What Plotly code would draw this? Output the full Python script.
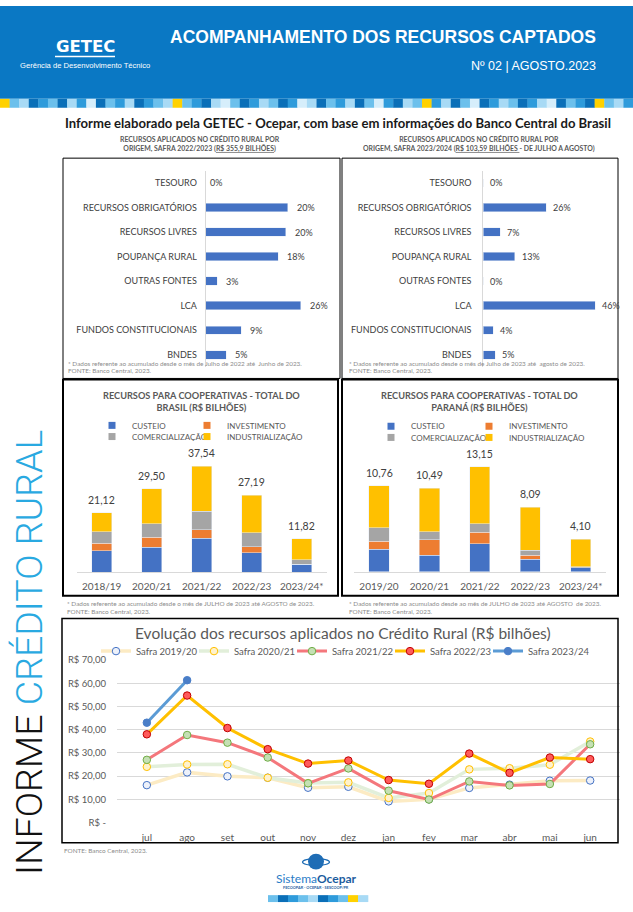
import subprocess
import plotly.graph_objects as go

W, H = 633, 912


def fx(x):
    return x / W


def fy(y):
    return 1 - y / H


try:
    _fams = subprocess.run(["fc-list", ":", "family"], capture_output=True, text=True).stdout
except Exception:
    _fams = ""
HAS_NARROW = "Liberation Sans Narrow" in _fams
NARROW = "'Liberation Sans Narrow', 'Arial Narrow', sans-serif" if HAS_NARROW else "'Liberation Sans', Arial, sans-serif"
TITLE_SIZE = 21 if HAS_NARROW else 17.5
SUB_SIZE = 15.5 if HAS_NARROW else 12.5
CH = "Lato, 'Open Sans', sans-serif"

# ---------------- data ----------------
origem = ["TESOURO", "RECURSOS OBRIGATÓRIOS", "RECURSOS LIVRES", "POUPANÇA RURAL",
          "OUTRAS FONTES", "LCA", "FUNDOS CONSTITUCIONAIS", "BNDES"]
rotulo_2223 = ["0%", "20%", "20%", "18%", "3%", "26%", "9%", "5%"]
barra_2223 = [0, 20.2, 19.7, 17.9, 2.9, 23.4, 8.7, 5.0]
rotulo_2324 = ["0%", "26%", "7%", "13%", "0%", "46%", "4%", "5%"]
barra_2324 = [0, 26, 7, 13, 0, 46, 4, 5]

linhas_coop = ["CUSTEIO", "INVESTIMENTO", "COMERCIALIZAÇÃO", "INDUSTRIALIZAÇÃO"]
cores_coop = ["#4472C4", "#ED7D31", "#A5A5A5", "#FFC000"]

anos_br = ["2018/19", "2020/21", "2021/22", "2022/23", "2023/24*"]
custeio_br = [7.56, 8.84, 11.98, 6.86, 2.79]
invest_br = [2.67, 3.49, 3.14, 2.21, 0.10]
comerc_br = [4.08, 4.88, 6.50, 4.89, 1.53]
indus_br = [6.81, 12.29, 15.92, 13.23, 7.40]
total_br = [21.12, 29.50, 37.54, 27.19, 11.82]

anos_pr = ["2019/20", "2020/21", "2021/22", "2022/23", "2023/24*"]
custeio_pr = [2.85, 2.06, 3.51, 1.57, 0.50]
invest_pr = [0.99, 1.98, 1.44, 0.53, 0.02]
comerc_pr = [1.65, 0.99, 1.07, 0.62, 0.14]
indus_pr = [5.27, 5.46, 7.13, 5.37, 3.44]
total_pr = [10.76, 10.49, 13.15, 8.09, 4.10]

meses = ["jul", "ago", "set", "out", "nov", "dez", "jan", "fev", "mar", "abr", "mai", "jun"]
safra_1920 = [16.1, 21.6, 19.9, 19.3, 15.0, 15.4, 9.1, 10.0, 14.9, 16.3, 18.0, 18.1]
safra_2021 = [24.0, 25.0, 25.1, 19.3, 17.0, 17.3, 10.6, 12.7, 22.9, 23.4, 24.9, 34.9]
safra_2122 = [27.0, 37.7, 34.4, 28.0, 16.9, 23.3, 13.7, 9.9, 17.7, 16.0, 16.6, 33.7]
safra_2223 = [38.0, 54.7, 40.7, 31.6, 25.4, 26.7, 18.3, 16.7, 29.7, 21.4, 28.0, 27.3]
safra_2324 = [43.0, 61.3, None, None, None, None, None, None, None, None, None, None]
y_ticks = [0, 10, 20, 30, 40, 50, 60, 70]
y_ticktext = ["R$ -", "R$ 10,00", "R$ 20,00", "R$ 30,00", "R$ 40,00", "R$ 50,00", "R$ 60,00", "R$ 70,00"]


def br(v):
    return f"{v:.2f}".replace(".", ",")


fig = go.Figure()

# ---------------- top horizontal bars ----------------
fig.add_bar(x=barra_2223, y=origem, orientation="h", width=0.344, marker_color="#4472C4",
            xaxis="x", yaxis="y", showlegend=False, hoverinfo="skip")
fig.add_bar(x=barra_2324, y=origem, orientation="h", width=0.344, marker_color="#4472C4",
            xaxis="x2", yaxis="y2", showlegend=False, hoverinfo="skip")

# ---------------- stacked cooperative bars ----------------
for nome, vals, cor in zip(linhas_coop, [custeio_br, invest_br, comerc_br, indus_br], cores_coop):
    fig.add_bar(x=anos_br, y=vals, name=nome, marker_color=cor, width=0.4,
                xaxis="x3", yaxis="y3", showlegend=False, hoverinfo="skip")
for nome, vals, cor in zip(linhas_coop, [custeio_pr, invest_pr, comerc_pr, indus_pr], cores_coop):
    fig.add_bar(x=anos_pr, y=vals, name=nome, marker_color=cor, width=0.4,
                xaxis="x4", yaxis="y4", showlegend=False, hoverinfo="skip")

# legend entries (small squares) for the cooperative charts
for i, (nome, cor) in enumerate(zip(linhas_coop, cores_coop)):
    lw_item = 100 if i % 2 == 1 else None
    fig.add_scatter(x=[None], y=[None], mode="markers", name=nome,
                    marker=dict(symbol="square", size=7, color=cor), legendwidth=lw_item,
                    xaxis="x3", yaxis="y3", legend="legend2" if i < 2 else "legend3")
    fig.add_scatter(x=[None], y=[None], mode="markers", name=nome,
                    marker=dict(symbol="square", size=7, color=cor), legendwidth=lw_item,
                    xaxis="x4", yaxis="y4", legend="legend4" if i < 2 else "legend5")

# ---------------- line chart ----------------
series = [
    ("Safra 2019/20", safra_1920, "#FCEBC4", 3.5, "#EDF1FA", "#4472C4"),
    ("Safra 2020/21", safra_2021, "#E2EFDA", 3.5, "#FFF2CC", "#FFC000"),
    ("Safra 2021/22", safra_2122, "#F4777C", 3, "#C5E0B4", "#70AD47"),
    ("Safra 2022/23", safra_2223, "#FFC000", 3, "#FF5B5B", "#C00000"),
    ("Safra 2023/24", safra_2324, "#5B9BD5", 3, "#4A7EC8", "#4A7EC8"),
]
for k, (nome, vals, lc, lw, mf, ml) in enumerate(series):
    fig.add_scatter(x=meses, y=vals, name=nome, mode="lines+markers",
                    line=dict(color=lc, width=lw),
                    marker=dict(size=7.5, color=mf, line=dict(color=ml, width=1)),
                    xaxis="x5", yaxis="y5", legend="legend", hoverinfo="skip",
                    cliponaxis=False, legendwidth=75 if k == 4 else None)

# ---------------- annotations ----------------
ann = []
for cat, v, t in zip(origem, barra_2223, rotulo_2223):
    ann.append(dict(x=v, y=cat, xref="x", yref="y", text=t, showarrow=False,
                    xanchor="left", xshift=7 if v > 0 else 2,
                    font=dict(family=CH, size=9, color="#404040")))
for cat, v, t in zip(origem, barra_2324, rotulo_2324):
    ann.append(dict(x=v, y=cat, xref="x2", yref="y2", text=t, showarrow=False,
                    xanchor="left", xshift=5,
                    font=dict(family=CH, size=9, color="#404040")))
for a, t in zip(anos_br, total_br):
    ann.append(dict(x=a, y=t, xref="x3", yref="y3", text=br(t), showarrow=False,
                    yanchor="bottom", yshift=5, font=dict(family=CH, size=10.5, color="#404040")))
for a, t in zip(anos_pr, total_pr):
    ann.append(dict(x=a, y=t, xref="x4", yref="y4", text=br(t), showarrow=False,
                    yanchor="bottom", yshift=5, font=dict(family=CH, size=10.5, color="#404040")))


def txt(x, y, text, size, color="#000000", family=CH, xanchor="center", yanchor="middle", **kw):
    ann.append(dict(x=fx(x), y=fy(y), xref="paper", yref="paper", text=text, showarrow=False,
                    xanchor=xanchor, yanchor=yanchor, font=dict(family=family, size=size, color=color), **kw))


# header
txt(85, 41, "<b>GETEC</b>", 16.5, "#FFFFFF", family="'DejaVu Sans', sans-serif")
txt(85, 60, "Gerência de Desenvolvimento Técnico", 7.6, "#FFFFFF", family="'Liberation Sans', Arial, sans-serif")
txt(598, 31, "<b>ACOMPANHAMENTO DOS RECURSOS CAPTADOS</b>", TITLE_SIZE, "#FFFFFF", family=NARROW, xanchor="right")
txt(598, 61, "Nº 02 | AGOSTO.2023", SUB_SIZE, "#FFFFFF", family=NARROW, xanchor="right")

txt(337.5, 118, "<b>Informe elaborado pela GETEC - Ocepar, com base em informações do Banco Central do Brasil</b>",
    13.1, "#1A1A1A")

# top chart titles
txt(200, 140, "<b>RECURSOS APLICADOS NO CRÉDITO RURAL POR<br>ORIGEM, SAFRA 2022/2023 "
    "(<span style='text-decoration:underline'>R$ 355,9 BILHÕES</span>)</b>", 6.9, "#595959")
txt(479, 140, "<b>RECURSOS APLICADOS NO CRÉDITO RURAL POR<br>ORIGEM, SAFRA 2023/2024 "
    "(<span style='text-decoration:underline'>R$ 103,59 BILHÕES </span>- DE JULHO A AGOSTO)</b>", 6.9, "#595959")

NOTE = "#8C8C8C"
NS = 6.4
txt(66, 362, "* Dados referente ao acumulado desde o mês de Julho de 2022 até  Junho de 2023.", NS, NOTE, xanchor="left")
txt(66, 369, "FONTE: Banco Central, 2023.", NS, NOTE, xanchor="left")
txt(347, 362, "* Dados referente ao acumulado desde o mês de Julho de 2023 até  agosto de 2023.", NS, NOTE, xanchor="left")
txt(347, 369, "FONTE: Banco Central, 2023.", NS, NOTE, xanchor="left")

# middle chart titles
txt(201.5, 400.5, "<b>RECURSOS PARA COOPERATIVAS - TOTAL DO<br>BRASIL (R$ BILHÕES)</b>", 9.2, "#595959")
txt(480, 400.5, "<b>RECURSOS PARA COOPERATIVAS - TOTAL DO<br>PARANÁ (R$ BILHÕES)</b>", 9.2, "#595959")

txt(65, 605, "* Dados referente ao acumulado desde o mês de JULHO de 2023 até AGOSTO de 2023.", NS, NOTE, xanchor="left")
txt(65, 613, "FONTE: Banco Central, 2023.", NS, NOTE, xanchor="left")
txt(346.5, 605, "* Dados referente ao acumulado desde ao mês de JULHO de 2023 até AGOSTO  de 2023.", NS, NOTE, xanchor="left")
txt(346.5, 613, "FONTE: Banco Central, 2023.", NS, NOTE, xanchor="left")

# line chart title & source
txt(342.5, 635, "Evolução dos recursos aplicados no Crédito Rural (R$ bilhões)", 15.5, "#595959")
txt(62, 855, "FONTE: Banco Central, 2023.", NS, NOTE, xanchor="left")

# vertical side title
ann.append(dict(x=fx(29), y=fy(655), xref="paper", yref="paper", showarrow=False, textangle=-90,
                xanchor="center", yanchor="middle",
                text="INFORME <span style='color:#29A9E1'>CRÉDITO RURAL</span>",
                font=dict(family="Roboto, 'Liberation Sans', sans-serif", size=37.5, color="#111111", weight=300)))

# footer logo text
txt(316, 883, "<span style='color:#2A7CC7'>Sistema</span><b><span style='color:#1B5C9E'>Ocepar</span></b>", 12)
txt(316, 892, "<b>FECOOPAR - OCEPAR - SESCOOP/PR</b>", 3.8, "#1B5C9E")

# ---------------- shapes ----------------
shapes = []


def rect(x0, y0, x1, y1, fill=None, lc=None, lw=0, layer="below"):
    shapes.append(dict(type="rect", xref="paper", yref="paper", x0=fx(x0), x1=fx(x1), y0=fy(y1), y1=fy(y0),
                       fillcolor=fill if fill else "rgba(0,0,0,0)",
                       line=dict(color=lc if lc else "rgba(0,0,0,0)", width=lw), layer=layer))


rect(0, 0, W, 94, fill="#0A78C4")
pal = {"Y": "#FFD100", "D": "#0A6FB8", "M": "#2E9BDB", "L": "#6CC0EC", "P": "#A8DAF5", "W": "#D6EEFB"}
mosaico = "Y" + "LPDMLDPMWDLMPDMLP" + "Y" + "LMDPWLDMPLDMWPDLMPDLWMDPL" + "Y" + "MPDLWDMPLDMPWDLMD" + "Y" + "LPM"
tw = W / len(mosaico)
for i, c in enumerate(mosaico):
    rect(i * tw, 94, (i + 1) * tw + 0.3, 103, fill=pal[c])
shapes.append(dict(type="line", xref="paper", yref="paper", x0=fx(55), x1=fx(115), y0=fy(51), y1=fy(51),
                   line=dict(color="#FFFFFF", width=1.5)))

# panel borders
rect(63, 154, 340, 377, lc="#000000", lw=1, layer="above")
rect(342, 154, 618, 377, lc="#000000", lw=1, layer="above")
rect(63, 378, 338, 597, lc="#000000", lw=2, layer="above")
rect(342, 378, 618, 597, lc="#000000", lw=2, layer="above")
rect(62, 620, 618, 847, lc="#000000", lw=1.5, layer="above")

# footer logo
shapes.append(dict(type="circle", xref="paper", yref="paper", x0=fx(308), x1=fx(324), y0=fy(874), y1=fy(858),
                   fillcolor="#1F6DB5", line=dict(width=0)))
shapes.append(dict(type="circle", xref="paper", yref="paper", x0=fx(302.5), x1=fx(329.5), y0=fy(870), y1=fy(863),
                   fillcolor="rgba(0,0,0,0)", line=dict(color="#1F6DB5", width=1.2)))
rodape = "LDMLPDMLYP"
for i, c in enumerate(rodape):
    rect(268 + i * 10, 900, 268 + (i + 1) * 10 + 0.3, 907, fill=pal[c])

# ---------------- layout ----------------
cat_font = dict(family=CH, size=9, color="#404040")
leg_common = dict(orientation="h", xanchor="left", yanchor="middle", bgcolor="rgba(0,0,0,0)",
                  itemwidth=30, entrywidthmode="pixels", traceorder="normal")

fig.update_layout(
    width=W, height=H, margin=dict(l=0, r=0, t=0, b=0),
    paper_bgcolor="#FFFFFF", plot_bgcolor="rgba(0,0,0,0)",
    barmode="stack",
    annotations=ann, shapes=shapes,
    xaxis=dict(domain=[fx(205.7), fx(319.4)], range=[0, 28], visible=False, anchor="y"),
    yaxis=dict(domain=[fy(365.5), fy(166.6)], type="category", range=[7.5, -0.5], showline=True,
               linecolor="#D9D9D9", ticks="", tickfont=cat_font, ticklabelstandoff=6, anchor="x",
               showgrid=False, zeroline=False),
    xaxis2=dict(domain=[fx(483.3), fx(599.9)], range=[0, 48], visible=False, anchor="y2"),
    yaxis2=dict(domain=[fy(365.5), fy(166.6)], type="category", range=[7.5, -0.5], showline=True,
                linecolor="#D9D9D9", ticks="", tickfont=cat_font, ticklabelstandoff=9, anchor="x2",
                showgrid=False, zeroline=False),
    xaxis3=dict(domain=[fx(76.7), fx(326.7)], type="category", anchor="y3", showline=True,
                linecolor="#D9D9D9", ticks="", showgrid=False,
                tickfont=dict(family=CH, size=10, color="#595959"), ticklabelstandoff=5),
    yaxis3=dict(domain=[fy(573.3), fy(452.9)], range=[0, 42], visible=False, anchor="x3"),
    xaxis4=dict(domain=[fx(353.8), fx(605.9)], type="category", anchor="y4", showline=True,
                linecolor="#D9D9D9", ticks="", showgrid=False,
                tickfont=dict(family=CH, size=10, color="#595959"), ticklabelstandoff=5),
    yaxis4=dict(domain=[fy(572.7), fy(451.5)], range=[0, 15], visible=False, anchor="x4"),
    xaxis5=dict(domain=[fx(117), fx(620)], type="category", anchor="y5", showline=False, ticks="",
                showgrid=False, tickfont=dict(family=CH, size=10, color="#595959"), ticklabelstandoff=7),
    yaxis5=dict(domain=[fy(826.5), fy(662)], range=[0, 70], tickvals=y_ticks, ticktext=y_ticktext,
                showgrid=True, gridcolor="#D9D9D9", gridwidth=1, zeroline=False, ticks="",
                tickfont=dict(family=CH, size=9.5, color="#595959"), ticklabelstandoff=10, anchor="x5"),
    legend=dict(x=fx(96), y=fy(653), entrywidth=53, font=dict(family=CH, size=9.5, color="#595959"), **leg_common),
    legend2=dict(x=fx(92), y=fy(424.5), entrywidth=50, font=dict(family=CH, size=8, color="#595959"), **leg_common),
    legend3=dict(x=fx(92), y=fy(435.8), entrywidth=50, font=dict(family=CH, size=8, color="#595959"), **leg_common),
    legend4=dict(x=fx(371), y=fy(425.3), entrywidth=53, font=dict(family=CH, size=8, color="#595959"), **leg_common),
    legend5=dict(x=fx(371), y=fy(436.7), entrywidth=53, font=dict(family=CH, size=8, color="#595959"), **leg_common),
    hovermode=False,
)

fig.write_html("out.html", config={"displayModeBar": False, "staticPlot": True},
               post_script="document.body.style.margin='0px';document.documentElement.style.overflow='hidden';")
